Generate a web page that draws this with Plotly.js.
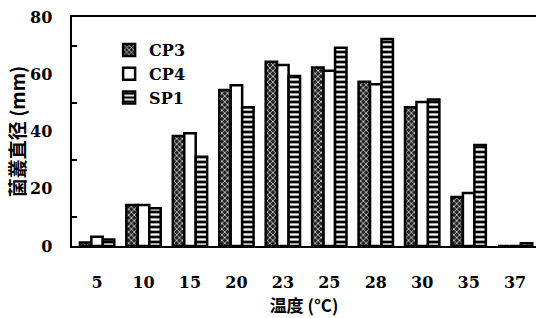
<!DOCTYPE html>
<html><head><meta charset="utf-8">
<script src="https://cdn.plot.ly/plotly-3.0.1.min.js"></script>
<style>html,body{margin:0;padding:0;background:#fff}#c{width:536px;height:318px}</style>
</head><body><div id="c"></div>
<script>
const categories = ["5","10","15","20","23","25","28","30","35","37"];
const cp3 = [1.2, 14.3, 38.4, 54.5, 64.4, 62.4, 57.4, 48.5, 17.1, 0];
const cp4 = [3.2, 14.3, 39.4, 56.2, 63.2, 61.2, 56.5, 50.3, 18.5, 0];
const sp1 = [2.3, 13.2, 31.2, 48.5, 59.4, 69.3, 72.3, 51.2, 35.3, 1];

const serif = "DejaVu Serif, Liberation Serif, serif";
const cjk = "Noto Sans CJK TC, DejaVu Serif";
const line = {color:"#000", width:2.5};
const traces = [
  {name:"CP3", x:categories, y:cp3, type:"bar",
   marker:{color:"#222", line:line, pattern:{shape:"x", fgcolor:"#ddd", bgcolor:"#222", size:4, solidity:0.35}}},
  {name:"CP4", x:categories, y:cp4, type:"bar",
   marker:{color:"#fff", line:line}},
  {name:"SP1", x:categories, y:sp1, type:"bar",
   marker:{color:"#000", line:line, pattern:{shape:"-", fgcolor:"#fff", bgcolor:"#000", size:5, solidity:0.45}}}
];
const layout = {
  width:536, height:318,
  margin:{l:72, r:0, t:17, b:72},
  paper_bgcolor:"#fff", plot_bgcolor:"#fff",
  barmode:"group", bargap:0.26, bargroupgap:0,
  font:{family:serif, color:"#000", size:16, weight:"bold"},
  showlegend:true,
  legend:{x:0.08, y:0.93, xanchor:"left", yanchor:"top", bgcolor:"rgba(0,0,0,0)",
          font:{family:serif, size:16, weight:"bold"}, itemwidth:30, tracegroupgap:0},
  xaxis:{type:"category", range:[-0.54, 9.45], showline:true, mirror:true, linecolor:"#000", linewidth:2,
         ticks:"", ticklabelstandoff:21, tickfont:{family:serif, size:16, weight:"bold"},
         title:{text:"温度 (°C)", font:{family:cjk, size:17, weight:"bold"}, standoff:6}},
  yaxis:{range:[0,80], dtick:20, showline:true, linecolor:"#000", linewidth:2.5, showgrid:false, zeroline:false,
         ticks:"", ticklabelstandoff:14, tickfont:{family:serif, size:16, weight:"bold"},
         minor:{dtick:10, ticks:"inside", ticklen:5, tickwidth:2, tickcolor:"#000", showgrid:false},
         title:{text:"菌叢直径 (mm)", font:{family:cjk, size:19, weight:"bold"}, standoff:0}}
};
Plotly.newPlot("c", traces, layout, {displayModeBar:false, staticPlot:true});
</script></body></html>
